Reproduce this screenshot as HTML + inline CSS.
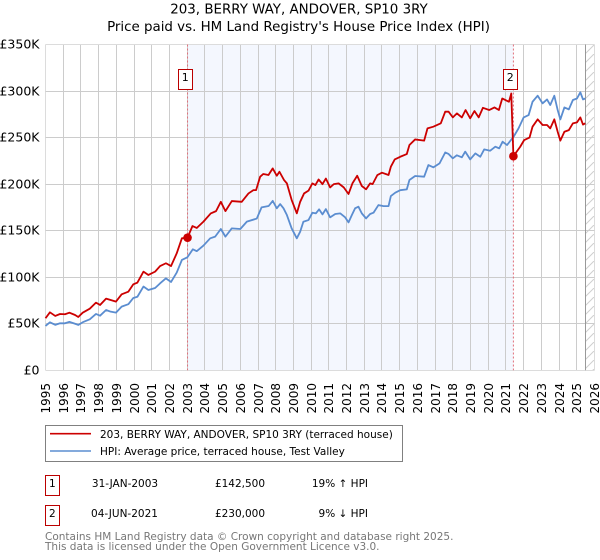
<!DOCTYPE html>
<html>
<head>
<meta charset="utf-8">
<title>203, BERRY WAY, ANDOVER, SP10 3RY</title>
<style>
html,body{margin:0;padding:0;background:#fff;}
#chart-root{position:relative;width:600px;height:560px;overflow:hidden;}
svg{display:block;}
text{font-family:"DejaVu Sans","Liberation Sans",sans-serif;fill:#000;}
</style>
</head>
<body>
<div id="chart-root">
<svg id="chart" width="600" height="560" viewBox="0 0 600 560" xmlns="http://www.w3.org/2000/svg">
  <defs>
    <pattern id="hatch" width="9" height="9" patternUnits="userSpaceOnUse">
      <path d="M0 9L9 0" stroke="#cfcfcf" stroke-width="1" fill="none"/>
    </pattern>
  </defs>
  <text x="299" y="13.5" text-anchor="middle" font-size="13.4">203, BERRY WAY, ANDOVER, SP10 3RY</text>
  <text x="298.5" y="31" text-anchor="middle" font-size="13.4">Price paid vs. HM Land Registry's House Price Index (HPI)</text>
  <g id="plot"></g>

  <g>
    <rect x="45.5" y="425.5" width="357" height="36" fill="#fff" stroke="#808080" stroke-width="1"/>
    <line x1="50" x2="91" y1="433.7" y2="433.7" stroke="#cc0000" stroke-width="1.6"/>
    <text x="100" y="438" font-size="10.5">203, BERRY WAY, ANDOVER, SP10 3RY (terraced house)</text>
    <line x1="50" x2="91" y1="451" y2="451" stroke="#5b8dd0" stroke-width="1.6"/>
    <text x="100" y="455" font-size="10.5">HPI: Average price, terraced house, Test Valley</text>
  </g>

  <g>
    <rect x="45.5" y="475.5" width="14" height="20" fill="#fff" stroke="#bb0000"/>
    <text x="52.3" y="487" font-size="10.5" text-anchor="middle">1</text>
    <text x="125" y="487" font-size="10.5" text-anchor="middle">31-JAN-2003</text>
    <text x="240" y="487" font-size="10.5" text-anchor="middle">£142,500</text>
    <text x="368" y="487" font-size="10.5" text-anchor="end">19% ↑ HPI</text>

    <rect x="45.5" y="505.5" width="14" height="20" fill="#fff" stroke="#bb0000"/>
    <text x="52.3" y="517" font-size="10.5" text-anchor="middle">2</text>
    <text x="124.5" y="517" font-size="10.5" text-anchor="middle">04-JUN-2021</text>
    <text x="240" y="517" font-size="10.5" text-anchor="middle">£230,000</text>
    <text x="368" y="517" font-size="10.5" text-anchor="end">9% ↓ HPI</text>
  </g>

  <text x="45" y="540" font-size="10.5" fill="#777" style="fill:#777">Contains HM Land Registry data © Crown copyright and database right 2025.</text>
  <text x="45" y="550" font-size="10.5" fill="#777" style="fill:#777">This data is licensed under the Open Government Licence v3.0.</text>
</svg>
</div>
<script>
const yearTicks = [1995,1996,1997,1998,1999,2000,2001,2002,2003,2004,2005,2006,2007,2008,2009,2010,2011,2012,2013,2014,2015,2016,2017,2018,2019,2020,2021,2022,2023,2024,2025,2026];
const priceTicks = [0,50,100,150,200,250,300,350];
const priceTickLabels = ["£0","£50K","£100K","£150K","£200K","£250K","£300K","£350K"];

const hpiDates = [1995.0,1995.25,1995.55,1995.82,1996.1,1996.35,1996.67,1996.85,1997.14,1997.5,1997.85,1998.08,1998.42,1998.68,1998.98,1999.3,1999.68,1999.96,2000.19,2000.53,2000.81,2001.19,2001.47,2001.8,2002.09,2002.41,2002.7,2003.01,2003.32,2003.54,2003.92,2004.3,2004.58,2004.9,2005.16,2005.52,2006.0,2006.37,2006.93,2007.2,2007.6,2007.83,2008.06,2008.25,2008.44,2008.63,2008.9,2009.19,2009.38,2009.56,2009.85,2010.07,2010.27,2010.45,2010.64,2010.83,2011.07,2011.36,2011.64,2011.92,2012.11,2012.3,2012.48,2012.67,2012.86,2013.1,2013.33,2013.52,2013.8,2014.08,2014.37,2014.5,2014.75,2015.03,2015.4,2015.55,2015.87,2016.38,2016.62,2016.9,2017.25,2017.57,2017.76,2018.0,2018.23,2018.51,2018.7,2018.98,2019.27,2019.55,2019.77,2020.11,2020.4,2020.62,2020.81,2021.06,2021.43,2021.71,2022.0,2022.28,2022.5,2022.79,2023.07,2023.32,2023.5,2023.73,2023.92,2024.07,2024.3,2024.55,2024.78,2025.01,2025.2,2025.35,2025.48];
const hpiValues = [47.6,51.6,48.8,50.5,50.5,52,50,48.7,52,54.8,60.5,58.7,64.8,63,62,68.4,71,77.7,79,90,86.3,88.4,93.4,98.8,94.9,105,118.5,121.4,130,128,134,141.8,143.6,151.8,143.6,152.5,151.8,159.7,163,175,176.5,182,174,178.6,174,166.8,152.4,141.8,148.9,159.6,161.4,169.3,168.6,172.9,167.5,173.2,164.3,167.9,168.6,164.3,158.9,166.8,174,175.8,168.6,163.2,167.9,169.3,177.5,176.4,176.4,187.2,190.8,193.5,194.4,204.4,208.7,208,220.5,218,222.3,234,232.4,227.7,231,228.8,234.9,226.6,233,229.4,237.3,235.9,240.2,238.4,245.6,242,250.9,259.9,271.7,274.2,288.5,295,286.8,291,285,295,279.6,269.5,282.4,280.3,290.4,292,298.6,291,292];

const priceDates = [1995.0,1995.25,1995.55,1995.82,1996.1,1996.35,1996.67,1996.85,1997.1,1997.5,1997.85,1998.08,1998.42,1998.68,1998.98,1999.3,1999.68,1999.96,2000.19,2000.53,2000.81,2001.19,2001.47,2001.8,2002.09,2002.41,2002.7,2003.02,2003.3,2003.54,2003.92,2004.33,2004.63,2004.9,2005.16,2005.52,2006.08,2006.46,2006.74,2006.89,2007.12,2007.3,2007.59,2007.83,2008.06,2008.21,2008.47,2008.63,2008.9,2009.19,2009.38,2009.6,2009.85,2010.07,2010.24,2010.42,2010.64,2010.83,2011.07,2011.28,2011.55,2011.84,2012.11,2012.33,2012.6,2012.86,2013.1,2013.33,2013.47,2013.74,2014.0,2014.37,2014.5,2014.72,2015.03,2015.4,2015.55,2015.87,2016.38,2016.57,2016.9,2017.32,2017.57,2017.76,2018.0,2018.23,2018.51,2018.72,2018.98,2019.22,2019.46,2019.7,2020.05,2020.35,2020.6,2020.79,2021.04,2021.17,2021.3,2021.42,2021.8,2022.03,2022.33,2022.5,2022.79,2023.07,2023.32,2023.5,2023.73,2023.92,2024.07,2024.3,2024.55,2024.78,2025.01,2025.2,2025.35,2025.48];
const priceValues = [55.9,62.3,58.4,60.5,60.2,61.9,59.4,57.3,61.9,66.2,72.7,70.2,77,75.5,73.8,81.6,84.5,92.4,94.2,106,102.4,106,112,115,112,125.7,141.8,142.5,155,152.9,159.7,168.5,171,181,171,181.8,181,190,193.6,193.6,208,210.9,209.8,216.9,209,213.3,204.4,200.8,182.9,168.6,181,190,193,200.8,199,205,200,206,196.5,200,200.8,196.5,189.4,200.8,209,198,194.4,200.8,200,209.8,212.3,209.8,218.7,226.5,229.4,232.3,242,248,246.7,259.9,261.7,265.3,277.8,277.8,271.7,276,271.7,279.6,270.7,278.5,271.7,282,279.6,282.4,279.6,292,289.6,288.5,297.4,230,240,247.4,250,261.7,269.6,263.5,263.5,259.9,269.6,256.3,246.7,256.3,258,265.3,266.3,271.7,264,265.3];

const saleDates = [2003.02,2021.42];
const saleValues = [142.5,230];
const saleLabels = ["1","2"];
const dataEndYear = 2025.5;

const SVG_NS = "http://www.w3.org/2000/svg";
const plot = document.getElementById("plot");
const X0 = 45.5, XPY = 17.71, Y0 = 370.3, YPK = 325.8 / 350;
const xScale = function (year) { return X0 + (year - 1995) * XPY; };
const yScale = function (k) { return Y0 - k * YPK; };
const snap = function (v) { return Math.floor(v) + 0.5; };
const make = function (tag, attrs) {
  const el = document.createElementNS(SVG_NS, tag);
  for (const k in attrs) { el.setAttribute(k, attrs[k]); }
  plot.appendChild(el);
  return el;
};
const top350 = yScale(350);

// shaded ownership period
const shade = make("rect", {x: xScale(saleDates[0]), y: top350, width: xScale(saleDates[1]) - xScale(saleDates[0]), height: Y0 - top350, fill: "#f4f7fe"});



// hatched future area
const hatch = make("rect", {x: xScale(dataEndYear), y: top350, width: xScale(2026) - xScale(dataEndYear), height: Y0 - top350, fill: "url(#hatch)"});



// gridlines + x labels
yearTicks.forEach(function (yr) {
  const px = snap(xScale(yr));
  const g = make("line", {x1: px, x2: px, y1: top350, y2: Y0, stroke: yr === 1995 || yr === 2026 ? "#dcdcdc" : "#cccccc", "stroke-width": 1});
  
  
  const t = make("text", {x: 0, y: 0, "font-size": 12, "text-anchor": "end", transform: "translate(" + (px + 4.5) + ",383) rotate(-90)"});
  t.textContent = String(yr);
  
  
});
priceTicks.forEach(function (k, i) {
  const py = snap(yScale(k));
  const g = make("line", {x1: 45.5, x2: xScale(2026), y1: py, y2: py, stroke: (k === 0 || k === 350) ? "#dcdcdc" : "#cccccc", "stroke-width": 1});
  
  
  const t = make("text", {x: 39.5, y: py + 4, "font-size": 12.5, "text-anchor": "end"});
  t.textContent = priceTickLabels[i];
  
  
});

// data end line
const endLine = make("line", {x1: snap(xScale(dataEndYear)), x2: snap(xScale(dataEndYear)), y1: top350, y2: Y0, stroke: "#999999", "stroke-width": 1});



// sale dashed lines
saleDates.forEach(function (d) {
  const l = make("line", {x1: xScale(d), x2: xScale(d), y1: top350, y2: Y0, stroke: "#e0707a", "stroke-width": 1, "stroke-dasharray": "2 2"});
  
  
});

const toPath = function (xs, ys) {
  return xs.map(function (x, i) { return (i ? "L" : "M") + xScale(x).toFixed(2) + " " + yScale(ys[i]).toFixed(2); }).join("");
};

const hpiLine = make("path", {d: toPath(hpiDates, hpiValues), fill: "none", stroke: "#5b8dd0", "stroke-width": 1.8, "stroke-linejoin": "round"});



const priceLine = make("path", {d: toPath(priceDates, priceValues), fill: "none", stroke: "#cc0000", "stroke-width": 1.8, "stroke-linejoin": "round"});



saleDates.forEach(function (d, i) {
  const dot = make("circle", {cx: xScale(d), cy: yScale(saleValues[i]), r: 4.3, fill: "#cc0000"});
  
  
  const bx = make("rect", {x: Math.round(xScale(d)) - 9.5, y: 69.5, width: 14, height: 20, fill: "#fff", stroke: "#bb0000", "stroke-width": 1});
  
  
  const lb = make("text", {x: Math.round(xScale(d)) - 2.7, y: 81, "font-size": 11, "text-anchor": "middle"});
  lb.textContent = saleLabels[i];
  
  
});
</script>
</body>
</html>
